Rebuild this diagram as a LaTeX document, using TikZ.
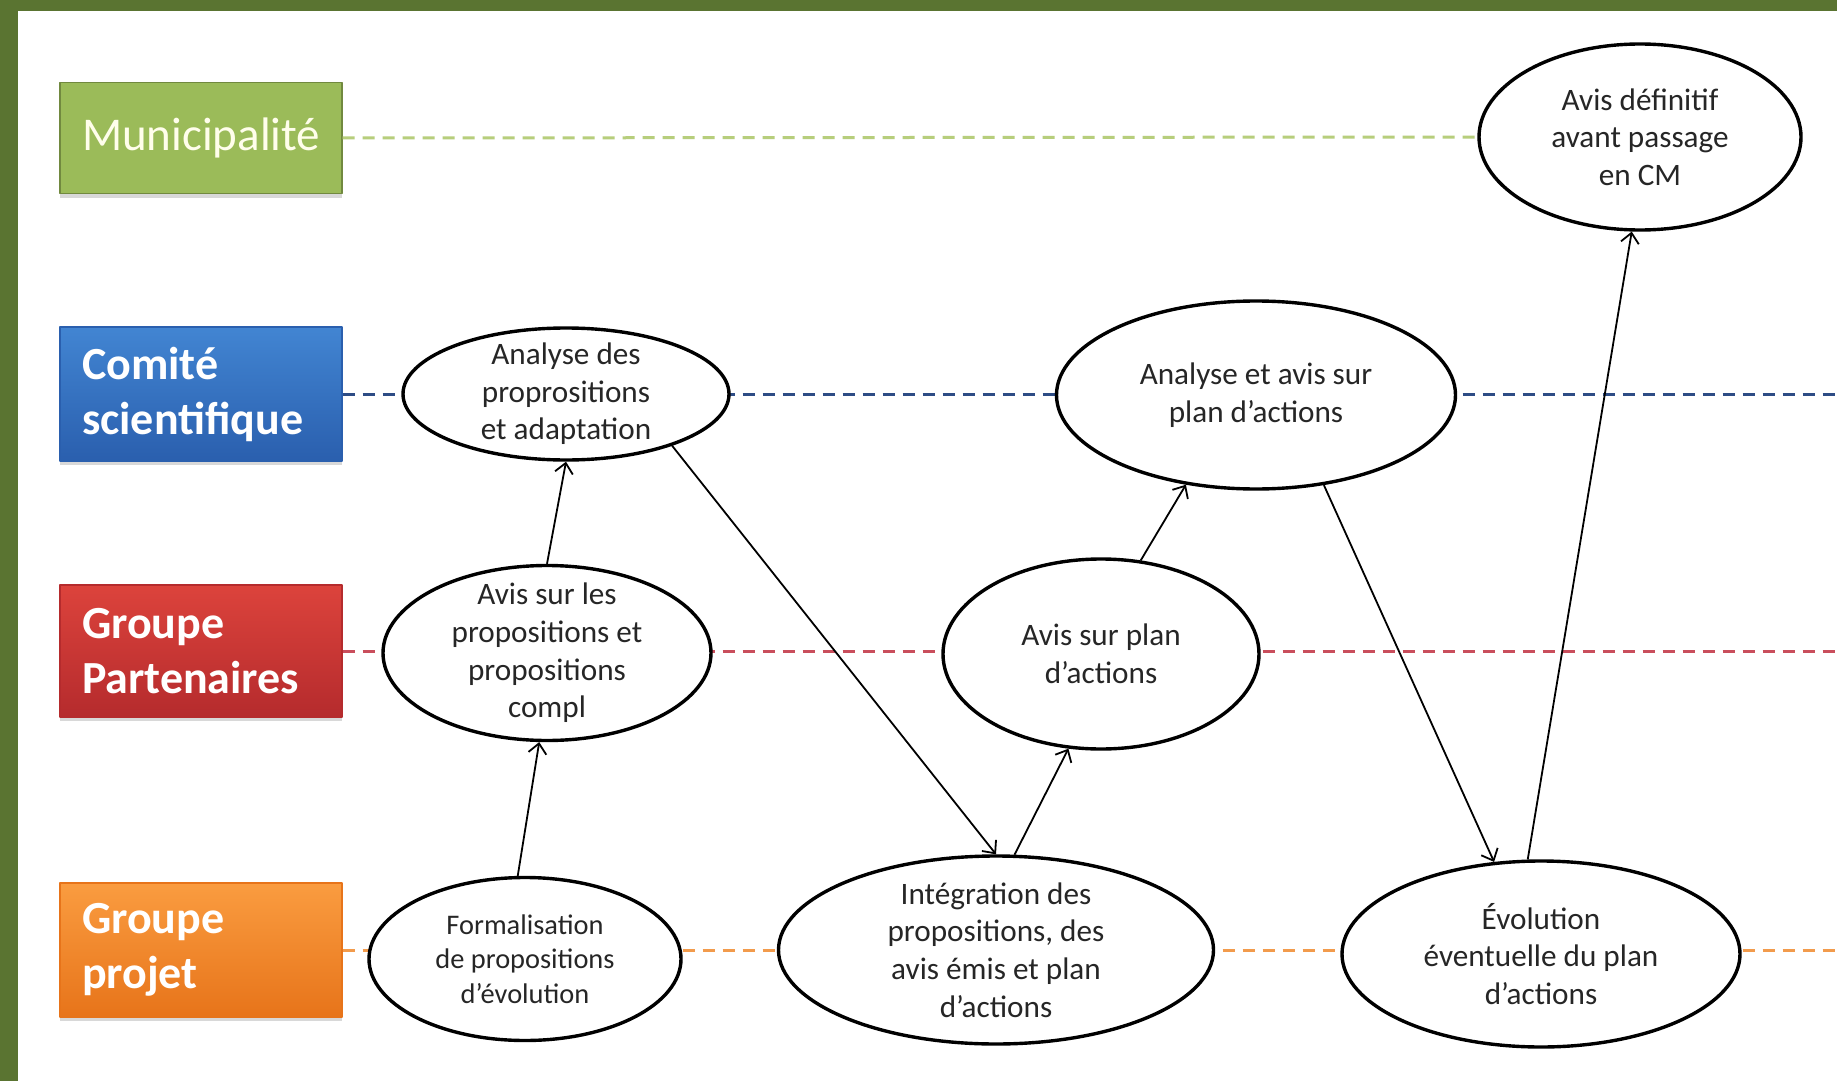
\documentclass[tikz,border=0pt]{standalone}
\usepackage{fontspec}
\setmainfont{Carlito}
\usetikzlibrary{shapes.geometric,arrows.meta,shadows}
\definecolor{cadre}{HTML}{5A7431}
\definecolor{munfond}{HTML}{9BBB59}
\definecolor{munbord}{HTML}{71893F}
\definecolor{cshaut}{HTML}{4285D2}
\definecolor{csbas}{HTML}{2A5FAE}
\definecolor{gphaut}{HTML}{DC433C}
\definecolor{gpbas}{HTML}{B52B2D}
\definecolor{prhaut}{HTML}{FA9C40}
\definecolor{prbas}{HTML}{E7741A}
\definecolor{traitmun}{HTML}{B7CE7C}
\definecolor{traitcs}{HTML}{2D4C85}
\definecolor{traitgp}{HTML}{C94E5C}
\definecolor{traitpr}{HTML}{F29B4C}
\begin{document}
\begin{tikzpicture}[x=0.5pt,y=-0.5pt,>={Straight Barb[length=5pt,width=9pt]},line join=bevel,
  lbl/.style={draw,rectangle,line width=0.6pt,minimum width=141pt,minimum height=67pt,text width=119pt,inner xsep=11pt,align=left,text=white,font=\bfseries\fontsize{23}{27.5}\selectfont,drop shadow={opacity=0.3,shadow xshift=0pt,shadow yshift=-2pt}},
  etape/.style={draw,ellipse,line width=1.7pt,fill=white,inner sep=-6pt,align=center,text=black!85,font=\fontsize{15.6}{18.8}\selectfont},
  lane/.style={dash pattern=on 6pt off 4pt,line width=1.5pt},
  fleche/.style={->,line width=0.9pt}]
%%
\fill[white] (0,0) rectangle (1837,1081);
\useasboundingbox (0,0) rectangle (1837,1081);
\fill[cadre] (0,0) rectangle (1837,11);
\fill[cadre] (0,0) rectangle (18,1081);
%
\node (lblm) at (201,138) [lbl,fill=munfond,draw=munbord,minimum height=55.5pt,text=white!92!yellow,font=\fontsize{23.5}{27}\selectfont] {Municipalité};
  \node (lblcs) at (201,394) [lbl,top color=cshaut,bottom color=csbas,draw=csbas] {Comité\\scientifique};
  \node (lblgp) at (201,651) [lbl,top color=gphaut,bottom color=gpbas,draw=gpbas,minimum height=66pt] {Groupe\\Partenaires};
  \node (lblp) at (201,950) [lbl,top color=prhaut,bottom color=prbas,draw=prbas] {Groupe\\projet};
\coordinate (fincs) at (1837,394);
\coordinate (fingp) at (1837,651);
\coordinate (finp) at (1837,950);
  \draw [lane,traitcs] (lblcs.east) -- (fincs);
  \draw [lane,traitgp] (lblgp.east) -- (fingp);
  \draw [lane,traitpr] (lblp.east) -- (finp);
%
\node (avisdef) at (1640,137) [etape,minimum width=161pt,minimum height=93pt] {Avis définitif\\avant passage\\en CM};
  \node (ana1) at (566,394) [etape,minimum width=163pt,minimum height=66pt] {Analyse des\\proprositions\\et adaptation};
  \node (avis1) at (547,653) [etape,minimum width=164pt,minimum height=87.5pt] {Avis sur les\\propositions et\\propositions\\compl};
  \node (ana2) at (1256,395) [etape,minimum width=199.5pt,minimum height=94pt] {Analyse et avis sur\\plan d’actions};
  \node (avis2) at (1101,654) [etape,minimum width=158pt,minimum height=95pt] {Avis sur plan\\d’actions};
  \node (form) at (525,959) [etape,minimum width=156pt,minimum height=81.5pt,font=\fontsize{14.2}{17.3}\selectfont] {Formalisation\\de propositions\\d’évolution};
  \node (integ) at (996,950) [etape,minimum width=217.5pt,minimum height=94pt] {Intégration des\\propositions, des\\avis émis et plan\\d’actions};
  \node (evol) at (1541,954) [etape,minimum width=199pt,minimum height=93pt] {Évolution\\éventuelle du plan\\d’actions};
  \draw [lane,traitmun] (lblm.east) -- (avisdef.west);
%
  \draw [fleche] (form.95) -- (avis1.265);
  \draw [fleche] (avis1.north) -- (ana1.south);
  \draw [fleche] (ana1.-26) -- (integ.north);
  \draw [fleche] (integ.79) -- (avis2.251);
  \draw [fleche] (avis2.67) -- (ana2.232);
  \draw [fleche] (ana2.-53) -- (evol.117);
  \draw [fleche] (evol.98) -- (avisdef.265);
%
\end{tikzpicture}
\end{document}
